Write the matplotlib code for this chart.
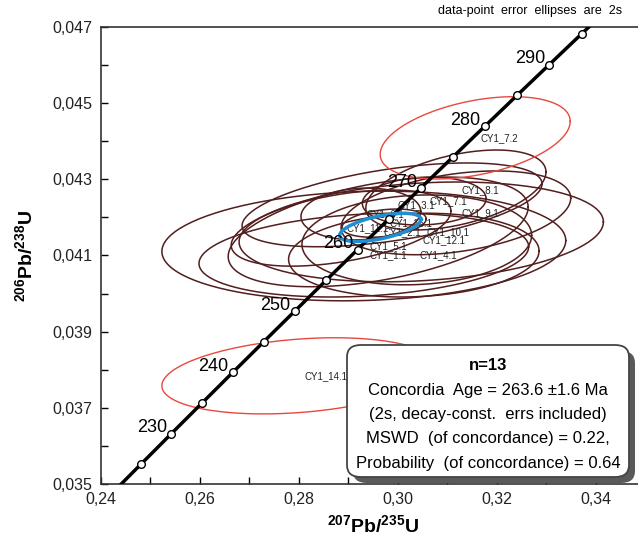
import numpy as np
import matplotlib.pyplot as plt
from matplotlib.patches import FancyBboxPatch
from matplotlib.ticker import MultipleLocator, FixedLocator, FuncFormatter

plt.rcParams['font.family'] = ['Liberation Sans', 'DejaVu Sans']
plt.rcParams['mathtext.fontset'] = 'custom'
plt.rcParams['mathtext.rm'] = 'Liberation Sans'
plt.rcParams['mathtext.bf'] = 'Liberation Sans:bold'

# decay constants (1/yr)
L235 = 9.8485e-10
L238 = 1.55125e-10

marker_ages = [225, 230, 235, 240, 245, 250, 255, 260, 265, 270, 275, 280, 285, 290, 295]
label_ages = [230, 240, 250, 260, 270, 280, 290]

# analyses: 207Pb/235U, 206Pb/238U, 2s half-widths, error correlation
spots = ['CY1_8.1', 'CY1_7.1', 'CY1_9.1', 'CY1_6.1', 'CY1_11.1', 'CY1_15.1', 'CY1_10.1',
         'CY1_12.1', 'CY1_5.1', 'CY1_1.1', 'CY1_4.1', 'CY1_2.1', 'CY1_3.1',
         'CY1_7.2', 'CY1_14.1']
x207 = [0.3117, 0.3053, 0.3117, 0.2925, 0.2885, 0.2972, 0.3047,
        0.3038, 0.2931, 0.2931, 0.3032, 0.2960, 0.2988,
        0.3156, 0.2800]
y206 = [0.04272, 0.04243, 0.04212, 0.04209, 0.04172, 0.04185, 0.04162,
        0.04141, 0.04125, 0.04101, 0.04101, 0.04162, 0.04233,
        0.04409, 0.03784]
err_x = [0.0182, 0.0125, 0.0232, 0.0121, 0.0222, 0.0085, 0.0368,
         0.0232, 0.0408, 0.0333, 0.0253, 0.0303, 0.0303,
         0.0192, 0.0277]
err_y = [0.00105, 0.00063, 0.00110, 0.00068, 0.00100, 0.00037, 0.00131,
         0.00118, 0.00144, 0.00110, 0.00110, 0.00144, 0.00110,
         0.00108, 0.00100]
rho = [0.45, 0.1, 0.35, 0.1, 0.45, 0.3, 0.2,
       0.1, 0.1, 0.2, 0.1, 0.45, 0.5,
       0.4, 0.26]
excluded = ['CY1_7.2', 'CY1_14.1']

conc_age = 263.6
conc_err = (0.0082, 0.00037, 0.57)

box_lines = ['Concordia  Age = 263.6 \u00b11.6 Ma',
             '(2s, decay-const.  errs included)',
             'MSWD  (of concordance) = 0.22,',
             'Probability  (of concordance) = 0.64']


def concordia(t_ma):
    t = np.asarray(t_ma) * 1e6
    return np.exp(L235 * t) - 1, np.exp(L238 * t) - 1


def ellipse(cx, cy, sx, sy, r, n=200):
    a = np.linspace(0, 2 * np.pi, n)
    return cx + sx * np.cos(a), cy + sy * (r * np.cos(a) + np.sqrt(1 - r * r) * np.sin(a))


fig = plt.figure(figsize=(6.38, 5.38), dpi=100)
ax = fig.add_axes([0.1583, 0.1004, 0.8534, 0.8494])

for name, x, y, sx, sy, r in zip(spots, x207, y206, err_x, err_y, rho):
    ex, ey = ellipse(x, y, sx, sy, r)
    if name in excluded:
        ax.plot(ex, ey, color='#e8483e', lw=1.0, zorder=2)
    else:
        ax.plot(ex, ey, color='#521e1e', lw=1.1, zorder=2)
    ax.annotate(name, (x, y), xytext=(4, 0), textcoords='offset points',
                fontsize=7, color='#222222', va='center', ha='left', zorder=3)

# concordia curve
tt = np.linspace(215, 300, 300)
cx, cy = concordia(tt)
ax.plot(cx, cy, color='black', lw=2.5, zorder=4)
mx, my = concordia(marker_ages)
ax.plot(mx, my, 'o', ms=5.5, mfc='white', mec='black', mew=1.0, zorder=5)
lx, ly = concordia(label_ages)
for a, x, y in zip(label_ages, lx, ly):
    ax.annotate(str(a), (x, y), xytext=(-3, 1), textcoords='offset points',
                ha='right', va='baseline', fontsize=13, zorder=6)

# concordia age ellipse
ax_, ay_ = concordia(conc_age)
ex, ey = ellipse(float(ax_), float(ay_), *conc_err)
ax.plot(ex, ey, color='#1e8fd3', lw=2.5, zorder=4)

ax.set_xlim(0.24, 0.35)
ax.set_ylim(0.035, 0.047)
ax.xaxis.set_major_locator(MultipleLocator(0.02))
ax.xaxis.set_minor_locator(MultipleLocator(0.01))
ax.yaxis.set_major_locator(FixedLocator([0.035, 0.037, 0.039, 0.041, 0.043, 0.045, 0.047]))
ax.yaxis.set_minor_locator(FixedLocator([0.036, 0.038, 0.040, 0.042, 0.044, 0.046]))
ax.yaxis.set_major_formatter(FuncFormatter(lambda v, p: f'{v:.3f}'.replace('.', ',')))
ax.xaxis.set_major_formatter(FuncFormatter(lambda v, p: f'{v:.2f}'.replace('.', ',')))
ax.tick_params(which='both', direction='in', length=5, width=1, labelsize=11.5,
               labelcolor='#222222', top=False, right=False, pad=6)
for s in ['left', 'bottom', 'top']:
    ax.spines[s].set_color('#333333')
    ax.spines[s].set_linewidth(1.2)
ax.spines['right'].set_visible(False)

ax.set_xlabel(r'$\mathbf{^{207}Pb/^{235}U}$', fontsize=14, labelpad=5)
ax.set_ylabel(r'$\mathbf{^{206}Pb/^{238}U}$', fontsize=14, labelpad=12)

fig.text(0.975, 0.968, 'data-point  error  ellipses  are  2s', ha='right', va='bottom',
         fontsize=9)

# results box with shadow (figure pixels -> fraction)
W, H = 638, 538
bx0, bx1, by0, by1 = 347, 629, 61, 193
rad = 14
shadow = FancyBboxPatch(((bx0 + 6) / W, (by0 - 6) / H), (bx1 - bx0) / W, (by1 - by0) / H,
                        boxstyle=f'round,pad=0,rounding_size={rad / W}',
                        transform=fig.transFigure, fc='#5a5a5a', ec='none', zorder=10)
box = FancyBboxPatch((bx0 / W, by0 / H), (bx1 - bx0) / W, (by1 - by0) / H,
                     boxstyle=f'round,pad=0,rounding_size={rad / W}',
                     transform=fig.transFigure, fc='white', ec='#444444', lw=1.3, zorder=11)
fig.patches.extend([shadow, box])
xc = (bx0 + bx1) / 2 / W
fig.text(xc, (538 - 365) / H, 'n=13', ha='center', va='center', fontsize=12,
         fontweight='bold', zorder=12)
for i, line in enumerate(box_lines):
    fig.text(xc, (538 - 390 - 24.5 * i) / H, line, ha='center', va='center',
             fontsize=12, zorder=12)

fig.savefig('out.png', dpi=100)
